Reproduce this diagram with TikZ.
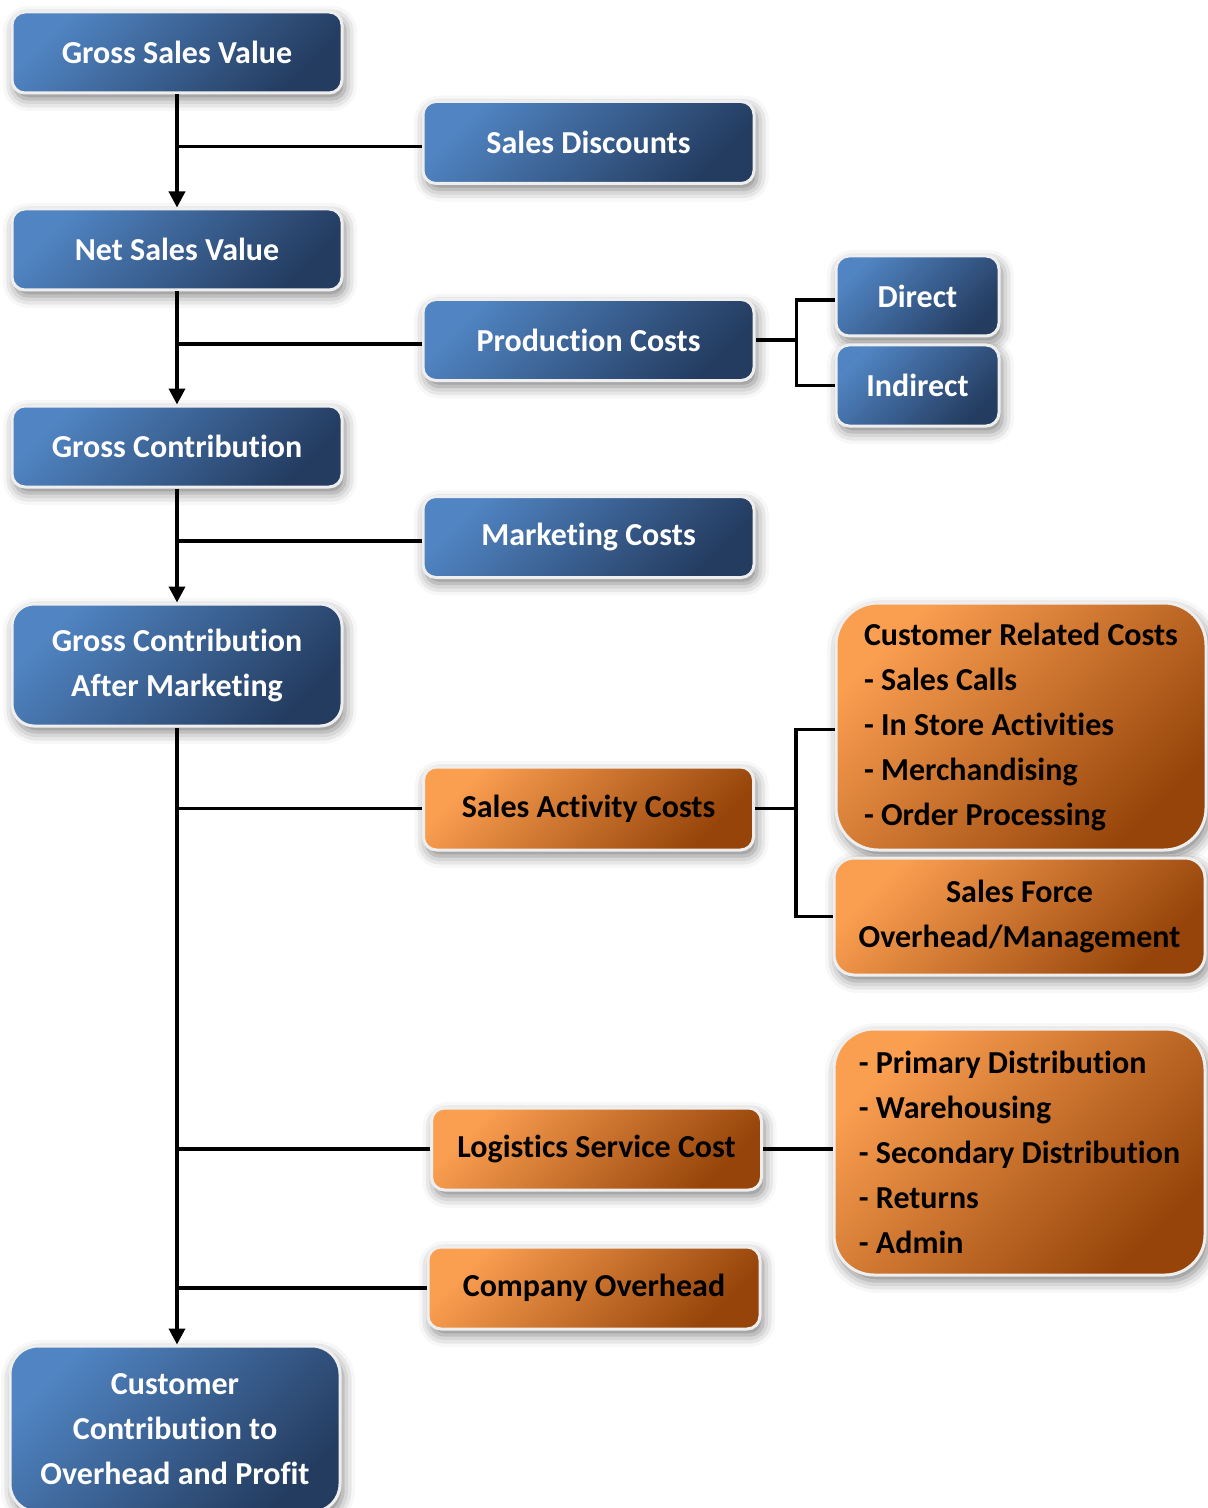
\documentclass[tikz,border=0pt]{standalone}
\usepackage{fontspec}
\setmainfont{Carlito}[Ligatures=NoCommon]
\usetikzlibrary{arrows.meta,shadows.blur,calc}

\definecolor{blueL}{RGB}{80,132,194}
\definecolor{blueD}{RGB}{36,60,96}
\definecolor{orangeL}{RGB}{250,158,80}
\definecolor{orangeD}{RGB}{150,68,10}
\definecolor{rim}{RGB}{238,238,238}

\tikzset{
  card/.style={rectangle, draw=rim, line width=1.5pt, rounded corners=6.5pt,
    font=\fontsize{16}{22.5}\selectfont\bfseries, inner sep=0pt,
    blur shadow={shadow xshift=1.5pt, shadow yshift=-3pt,
                 shadow blur radius=6pt, shadow opacity=50}},
  bluebox/.style={card, top color=blueL, bottom color=blueD, shading angle=45,
    text=white, align=center},
  orangebox/.style={card, top color=orangeL, bottom color=orangeD, shading angle=45,
    text=black, align=center},
  link/.style={draw=black, line width=1.8pt},
  flow/.style={link, -{Triangle[width=8pt,length=8pt]}},
}

\begin{document}
\begin{tikzpicture}[x=0.5pt,y=-0.5pt]
\useasboundingbox (0,0) rectangle (1208,1508);

% main column
\node[bluebox, minimum width=165pt, minimum height=40.5pt] (gsv) at (177,52.5) {Gross Sales Value};
\node[bluebox, minimum width=165pt, minimum height=40.5pt] (nsv) at (177,249.5) {Net Sales Value};
\node[bluebox, minimum width=165pt, minimum height=40.5pt] (gc) at (177,446.5) {Gross Contribution};
\node[bluebox, minimum width=165pt, minimum height=61pt, rounded corners=11pt] (gcam) at (177,665) {Gross Contribution\\After Marketing};
\node[bluebox, minimum width=165pt, minimum height=83pt, rounded corners=14pt] (ccop) at (175,1429) {Customer\\Contribution to\\Overhead and Profit};

% deductions
\node[bluebox, minimum width=165.5pt, minimum height=41pt] (sd) at (588.5,142.5) {Sales Discounts};
\node[bluebox, minimum width=165.5pt, minimum height=40.5pt] (pc) at (588.5,340) {Production Costs};
\node[bluebox, minimum width=165.5pt, minimum height=40.5pt] (mc) at (588.5,537) {Marketing Costs};
\node[orangebox, minimum width=165pt, minimum height=41.5pt] (sac) at (588.5,808.5) {Sales Activity Costs};
\node[orangebox, minimum width=165pt, minimum height=41pt] (lsc) at (596.5,1149) {Logistics Service Cost};
\node[orangebox, minimum width=166pt, minimum height=41pt] (co) at (594,1288) {Company Overhead};

% breakdowns
\node[bluebox, minimum width=81.5pt, minimum height=40pt] (direct) at (917.5,296) {Direct};
\node[bluebox, minimum width=81.5pt, minimum height=40.5pt] (indirect) at (917.5,385.5) {Indirect};
\node[orangebox, align=left, minimum width=185pt, minimum height=123.5pt, rounded corners=21pt] (crc) at (1021,726.5)
  {Customer Related Costs\\- Sales Calls\\- In Store Activities\\- Merchandising\\- Order Processing};
\node[orangebox, minimum width=185.5pt, minimum height=58.5pt, rounded corners=10pt] (sf) at (1019.5,916.5)
  {Sales Force\\Overhead/Management};
\node[orangebox, align=left, minimum width=185.5pt, minimum height=123pt, rounded corners=20pt] (pd) at (1019.5,1152)
  {- Primary Distribution\\- Warehousing\\- Secondary Distribution\\- Returns\\- Admin};

% trunk
\draw[flow] (gsv.south) -- (nsv.north);
\draw[flow] (nsv.south) -- (gc.north);
\draw[flow] (gc.south) -- (gcam.north);
\draw[flow] (gcam.south) -- (gcam.south |- ccop.north);

% side feeds into the trunk
\draw[link] ([yshift=-2pt]sd.west) -- ([yshift=-2pt]sd.west -| gsv.south);
\draw[link] ([yshift=-2pt]pc.west) -- ([yshift=-2pt]pc.west -| nsv.south);
\draw[link] ([yshift=-2pt]mc.west) -- ([yshift=-2pt]mc.west -| gc.south);
\draw[link] (sac.west) -- (sac.west -| gcam.south);
\draw[link] (lsc.west) -- (lsc.west -| gcam.south);
\draw[link] (co.west) -- (co.west -| gcam.south);

% brackets to the breakdowns
\coordinate (pcj) at ($(pc.east)+(41,0)$);
\draw[link] (pc.east) -- (pcj);
\draw[link] ([yshift=-2pt]direct.west) -| (pcj |- indirect.west) -- (indirect.west);

\coordinate (sacj) at ($(sac.east)+(41,0)$);
\draw[link] (sac.east) -- (sacj);
\draw[link] ([yshift=-1.5pt]crc.west) -| (sacj |- sf.west) -- (sf.west);

\draw[link] (lsc.east) -- (lsc.east -| pd.west);
\end{tikzpicture}
\end{document}
